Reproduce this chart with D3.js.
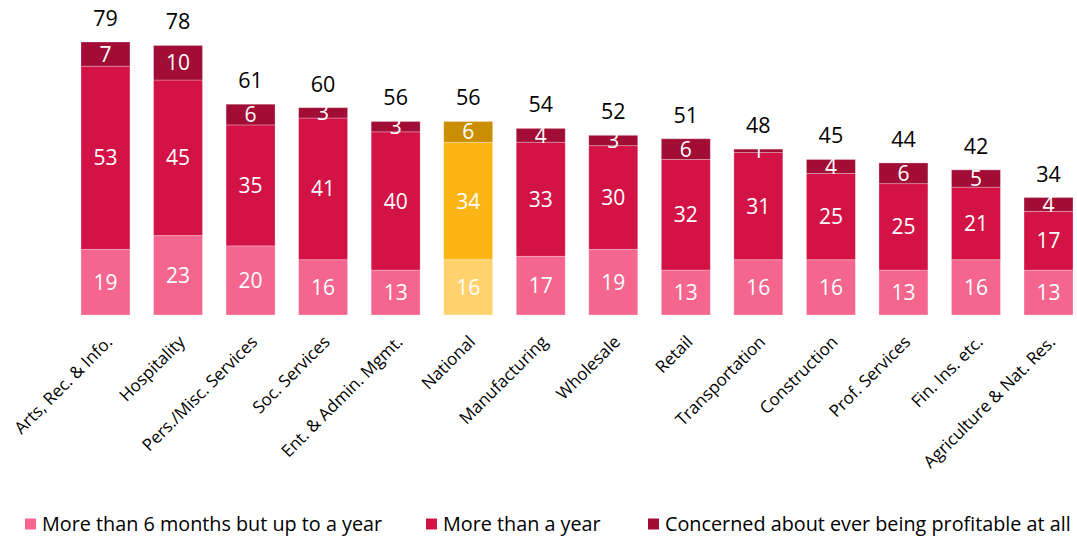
<!DOCTYPE html>
<html>
<head>
<meta charset="utf-8">
<script src="https://cdn.jsdelivr.net/npm/d3@7"></script>
<style>
  html, body { margin: 0; padding: 0; background: #fff; }
  svg { display: block; font-family: "Open Sans", "Noto Sans", sans-serif; }
</style>
</head>
<body>
<svg id="chart"></svg>
<script>
const categories = ['Arts, Rec. & Info.', 'Hospitality', 'Pers./Misc. Services', 'Soc. Services', 'Ent. & Admin. Mgmt.', 'National', 'Manufacturing', 'Wholesale', 'Retail', 'Transportation', 'Construction', 'Prof. Services', 'Fin. Ins. etc.', 'Agriculture & Nat. Res.'];
const sixToYear = [19, 23, 20, 16, 13, 16, 17, 19, 13, 16, 16, 13, 16, 13];
const overYear = [53, 45, 35, 41, 40, 34, 33, 30, 32, 31, 25, 25, 21, 17];
const everProfitable = [7, 10, 6, 3, 3, 6, 4, 3, 6, 1, 4, 6, 5, 4];
const totals = [79, 78, 61, 60, 56, 56, 54, 52, 51, 48, 45, 44, 42, 34];
const seriesNames = ['More than 6 months but up to a year', 'More than a year', 'Concerned about ever being profitable at all'];
const highlight = 'National';

const width = 1077;
const height = 542;
const marginLeft = 81;
const marginRight = 4;
const baseline = 315;

const colors = ['#F4668E', '#D31245', '#A10D35'];
const colorsHi = ['#FFD26E', '#FDB515', '#C98F00'];

const svg = d3.select('#chart').attr('width', width).attr('height', height).attr('viewBox', [0, 0, width, height]);

const x = d3.scaleBand(categories, [marginLeft, width - marginRight]).paddingInner(0.325).paddingOuter(0);
const y = d3.scaleLinear([0, 79], [baseline, 42]);

const rows = categories.map((c, i) => ({ cat: c, s0: sixToYear[i], s1: overYear[i], s2: everProfitable[i] }));
const stacked = d3.stack().keys(['s0', 's1', 's2'])(rows);

/**
 * bars
 */
const bars = svg.append('g');
stacked.forEach((layer, k) => {
  bars
    .append('g')
    .selectAll('rect')
    .data(layer)
    .join('rect')
    .attr('x', (d) => x(d.data.cat))
    .attr('width', x.bandwidth())
    .attr('y', (d) => y(d[1]))
    .attr('height', (d) => y(d[0]) - y(d[1]))
    .attr('fill', (d) => (d.data.cat === highlight ? colorsHi[k] : colors[k]))
    .attr('stroke', 'rgba(255,255,255,0.35)')
    .attr('stroke-width', 0.8);

  bars
    .append('g')
    .selectAll('text')
    .data(layer)
    .join('text')
    .attr('x', (d) => x(d.data.cat) + x.bandwidth() / 2)
    .attr('y', (d) => (y(d[0]) + y(d[1])) / 2)
    .attr('dy', '0.36em')
    .attr('text-anchor', 'middle')
    .attr('fill', '#fff')
    .style('font-size', '21px')
    .text((d) => d[1] - d[0]);
});

// totals above bars
svg
  .append('g')
  .selectAll('text')
  .data(categories)
  .join('text')
  .attr('x', (c) => x(c) + x.bandwidth() / 2)
  .attr('y', (c, i) => y(sixToYear[i] + overYear[i] + everProfitable[i]) - 16)
  .attr('text-anchor', 'middle')
  .attr('fill', '#000')
  .style('font-size', '21.5px')
  .text((c, i) => totals[i]);

/**
 * x labels
 */
svg
  .append('g')
  .selectAll('text')
  .data(categories)
  .join('text')
  .attr('transform', (c) => `translate(${x(c) + x.bandwidth() / 2 + 8},343) rotate(-45)`)
  .attr('text-anchor', 'end')
  .attr('fill', '#000')
  .style('font-size', '17px')
  .text((c) => c);

/**
 * legend
 */
const legend = svg.append('g');
const items = legend
  .selectAll('g')
  .data(seriesNames)
  .join('g');
items
  .append('rect')
  .attr('width', 11)
  .attr('height', 11)
  .attr('y', -5.5)
  .attr('fill', (d, i) => colors[i]);
items
  .append('text')
  .attr('x', 17)
  .attr('dy', '0.35em')
  .style('font-size', '19.8px')
  .attr('fill', '#000')
  .text((d) => d);

const legendX = [25, 426, 648];
items.attr('transform', (d, i) => `translate(${legendX[i]},524)`);
</script>
</body>
</html>
